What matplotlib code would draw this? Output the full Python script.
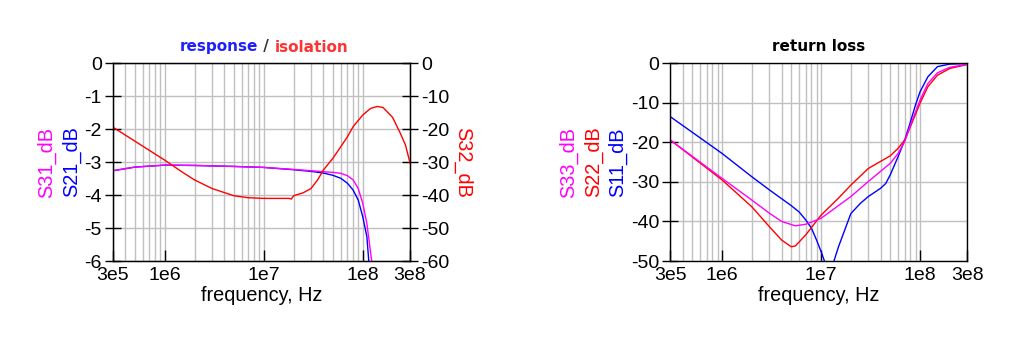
import numpy as np
import matplotlib
matplotlib.use("Agg")
import matplotlib.pyplot as plt
from matplotlib.ticker import FixedLocator, NullFormatter

plt.rcParams['axes.unicode_minus'] = False
plt.rcParams['font.family'] = ['Liberation Sans', 'DejaVu Sans']

# ---------------- data ----------------
# response / isolation
f_s21 = [3e5, 5e5, 1e6, 2e6, 5e6, 1e7, 2e7, 3e7, 4e7, 5e7, 6e7, 7e7, 8e7, 9e7, 1e8, 1.1e8, 1.15e8, 1.2e8]
s21_db = [-3.26, -3.15, -3.09, -3.10, -3.13, -3.16, -3.23, -3.28, -3.33, -3.40, -3.49, -3.64, -3.85, -4.15, -4.66, -5.26, -6.0, -6.6]
f_s31 = [3e5, 5e5, 1e6, 2e6, 5e6, 1e7, 2e7, 3e7, 4e7, 5e7, 6e7, 7e7, 8e7, 9e7, 1e8, 1.1e8, 1.23e8, 1.3e8]
s31_db = [-3.26, -3.15, -3.09, -3.10, -3.13, -3.16, -3.22, -3.26, -3.29, -3.31, -3.34, -3.41, -3.54, -3.80, -4.25, -4.86, -6.0, -6.6]
f_s32 = [3e5, 1e6, 1.5e6, 2e6, 3e6, 5e6, 7e6, 1e7, 1.8e7, 1.9e7, 2e7, 2.5e7, 3e7, 3.5e7, 4e7, 5e7, 6e7, 7e7,
         8e7, 1e8, 1.2e8, 1.4e8, 1.6e8, 2e8, 2.4e8, 2.7e8, 3e8]
s32_db = [-19.4, -29.4, -33.0, -35.4, -38.0, -40.2, -40.8, -41.0, -41.0, -41.2, -40.2, -39.3, -38.0, -35.4, -32.4,
          -28.8, -25.3, -22.3, -19.2, -15.7, -13.7, -13.1, -13.4, -16.4, -21.3, -24.8, -30.2]

# return loss
f_s11 = [3e5, 1e6, 2e6, 3e6, 5e6, 6e6, 7e6, 8e6, 9e6, 1e7, 1.1e7, 1.2e7, 1.35e7, 1.5e7, 2e7, 2.5e7, 3e7, 4e7,
         4.5e7, 5e7, 6e7, 7e7, 8e7, 9e7, 1e8, 1.2e8, 1.5e8, 2e8, 3e8]
s11_db = [-13.5, -22.8, -28.7, -32.0, -36.0, -37.6, -39.6, -41.7, -44.7, -47.6, -50.5, -53.0, -50.0, -46.4,
          -38.0, -35.4, -33.7, -31.6, -30.4, -28.2, -23.6, -19.4, -14.8, -10.5, -7.2, -3.4, -0.84, -0.2, -0.05]
f_s22 = [3e5, 1e6, 2e6, 3e6, 4e6, 5e6, 5.5e6, 7e6, 1e7, 1.5e7, 2e7, 3e7, 5e7, 6e7, 7e7, 8e7, 1e8,
         1.2e8, 1.5e8, 2e8, 3e8]
s22_db = [-19.4, -29.5, -36.3, -41.3, -44.7, -46.4, -46.2, -43.4, -38.4, -34.1, -30.8, -26.6, -23.4, -21.5,
          -19.4, -16.0, -10.1, -5.9, -3.0, -1.3, -0.3]
f_s33 = [3e5, 1e6, 2e6, 3e6, 4e6, 5.5e6, 7e6, 1e7, 2e7, 3e7, 5e7, 6e7, 7e7, 8e7, 1e8, 1.2e8, 1.5e8, 2e8, 3e8]
s33_db = [-19.4, -29.1, -34.6, -37.9, -40.0, -41.1, -40.7, -39.2, -33.7, -29.9, -25.3, -22.8, -19.8, -15.6,
          -9.3, -5.1, -2.4, -1.0, -0.25]

x_ticks = [3e5, 1e6, 1e7, 1e8, 3e8]
x_ticklabels = ["3e5", "1e6", "1e7", "1e8", "3e8"]
y_left_ticks = [0, -1, -2, -3, -4, -5, -6]
y_right_ticks = [0, -10, -20, -30, -40, -50, -60]
rl_ticks = [0, -10, -20, -30, -40, -50]

BLUE = "#0000ff"
MAGENTA = "#ff00ff"
RED = "#ff0000"
GRID = "#c0c0c0"
TICK_FS = 14
LABEL_FS = 14.3

minor_grid = [k * 10.0 ** e for e in (5, 6, 7) for k in range(2, 10)]
minor_grid = [v for v in minor_grid if 3e5 < v < 3e8]

fig = plt.figure(figsize=(10.24, 3.52), dpi=100)


def style_axes(ax, yticks):
    ax.set_xscale("log")
    ax.set_xlim(3e5, 3e8)
    ax.xaxis.set_major_locator(FixedLocator(x_ticks))
    ax.set_xticklabels(x_ticklabels)
    ax.xaxis.set_minor_locator(FixedLocator(minor_grid))
    ax.xaxis.set_minor_formatter(NullFormatter())
    ax.set_yticks(yticks)
    ax.set_yticklabels([str(v) for v in yticks])
    ax.set_ylim(min(yticks), max(yticks))
    ax.grid(True, which="both", axis="x", color=GRID, lw=1.0)
    ax.grid(True, which="major", axis="y", color=GRID, lw=1.0)
    ax.tick_params(axis="x", which="major", direction="in", length=8, width=1,
                   labelsize=TICK_FS, pad=4)
    ax.tick_params(axis="x", which="minor", length=0)
    ax.tick_params(axis="y", direction="inout", length=12, width=1,
                   labelsize=TICK_FS, pad=2)
    for s in ax.spines.values():
        s.set_linewidth(1.0)
        s.set_color("black")
    ax.set_axisbelow(True)
    ax.set_xlabel("frequency, Hz", fontsize=LABEL_FS, labelpad=2)


# ---------------- left chart ----------------
ax1 = fig.add_axes([113 / 1024, 1 - 261 / 352, 297 / 1024, 197.7 / 352])
style_axes(ax1, y_left_ticks)
ax1.plot(f_s21, s21_db, color=BLUE, lw=1.0)
ax1.plot(f_s31, s31_db, color=MAGENTA, lw=1.0)

ax1r = ax1.twinx()
ax1r.set_ylim(-60, 0)
ax1r.set_yticks(y_right_ticks)
ax1r.set_yticklabels([str(v) for v in y_right_ticks])
ax1r.tick_params(axis="y", direction="inout", length=12, width=1, labelsize=TICK_FS, pad=2)
ax1r.plot(f_s32, s32_db, color=RED, lw=1.0)
ax1r.set_xlim(3e5, 3e8)

fig.text(47 / 1024, 1 - 162 / 352, "S31_dB", color=MAGENTA, rotation=90,
         fontsize=LABEL_FS, ha="center", va="center")
fig.text(72 / 1024, 1 - 162 / 352, "S21_dB", color=BLUE, rotation=90,
         fontsize=LABEL_FS, ha="center", va="center")
fig.text(463 / 1024, 1 - 162 / 352, "S32_dB", color=RED, rotation=270,
         fontsize=LABEL_FS, ha="center", va="center")

# title with coloured parts (measured with a temporary text that is removed)
TITLE_FS = 11
ty = 1 - 47 / 352
renderer = fig.canvas.get_renderer()
tmp = fig.text(0, 0, "response / isolation", fontsize=TITLE_FS, fontweight="bold",
               family="DejaVu Sans")
total_w = tmp.get_window_extent(renderer).width / fig.bbox.width
tmp.remove()
x = 264 / 1024 - total_w / 2
for part, col in [("response", "#2020ff"), (" / ", "#333333"), ("isolation", "#ff3333")]:
    t = fig.text(x, ty, part, color=col, fontsize=TITLE_FS, fontweight="bold",
                 family="DejaVu Sans", ha="left", va="center")
    x += t.get_window_extent(renderer).width / fig.bbox.width

# ---------------- right chart ----------------
ax2 = fig.add_axes([670.3 / 1024, 1 - 261 / 352, 297 / 1024, 197.7 / 352])
style_axes(ax2, rl_ticks)
ax2.plot(f_s11, s11_db, color=BLUE, lw=1.0)
ax2.plot(f_s22, s22_db, color=RED, lw=1.0)
ax2.plot(f_s33, s33_db, color=MAGENTA, lw=1.0)
ax2.set_title("return loss", fontsize=TITLE_FS, fontweight="bold", family="DejaVu Sans",
              pad=9)

fig.text(569 / 1024, 1 - 162 / 352, "S33_dB", color=MAGENTA, rotation=90,
         fontsize=LABEL_FS, ha="center", va="center")
fig.text(594 / 1024, 1 - 162 / 352, "S22_dB", color=RED, rotation=90,
         fontsize=LABEL_FS, ha="center", va="center")
fig.text(618 / 1024, 1 - 162 / 352, "S11_dB", color=BLUE, rotation=90,
         fontsize=LABEL_FS, ha="center", va="center")

fig.savefig("out.png", dpi=100)
